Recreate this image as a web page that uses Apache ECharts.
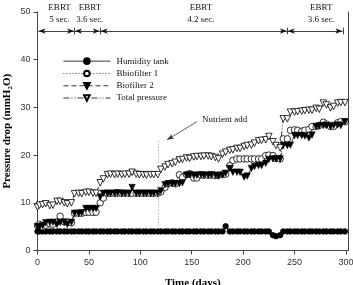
<!DOCTYPE html>
<html><head><meta charset="utf-8">
<script src="https://cdn.jsdelivr.net/npm/echarts@6/dist/echarts.min.js"></script>
<style>html,body{margin:0;padding:0;background:#fff}#c{width:353px;height:285px}</style>
</head><body><div id="c"></div>
<script>
const days = [0,2,5,8,12,15,19,22,26,29,33,36,40,43,47,50,54,57,61,64,68,71,75,78,82,85,89,92,96,99,103,106,110,113,117,120,124,127,131,134,138,141,145,148,152,155,159,162,166,169,173,176,180,183,187,190,194,197,201,204,208,211,215,218,222,225,229,232,236,239,243,246,250,253,257,260,264,267,271,274,278,281,285,288,292,295,299];
const humidityTank = [4,4,4,4,4,4,4,4,4,4, 4,4,4,4,4,4,4,4,4,4, 4,4,4,4,4,4,4,4,4,4, 4,4,4,4,4,4,4,4,4,4, 4,4,4,4,4,4,4,4,4,4, 4,4,4,5.1,4,4,4,4,4,4, 4,4,4,4,4,4,3.2,3.0,3.2,4, 4,4,4,4,4,4,4,4,4,4, 4,4,4,4,4,4,4];
const biofilter1 = [5.2,5.5,5.0,5.3,5.6,5.5,6.0,7.2,6.0,6.0, 5.8,7.8,7.8,7.8,8.0,8.0,8.0,8.0,10.0,11.0, 12.0,12.0,12.0,12.0,12.0,12.0,12.0,12.0,12.0,12.0, 12.0,12.0,12.0,12.0,12.0,12.3,13.2,14.0,14.2,14.0, 15.9,15.3,15.9,16.1,15.2,15.2,15.8,15.8,15.8,15.8, 15.7,15.8,16.0,16.0,17.8,18.9,19.2,19.2,19.2,19.2, 19.2,19.2,19.2,19.2,19.9,20.0,19.9,19.3,19.2,23.4, 23.4,25.2,25.3,25.2,25.0,25.2,25.4,26.0,26.0,26.2, 26.9,26.5,26.0,26.0,26.8,27.0,27.0];
const biofilter2 = [5.0,5.0,5.2,5.8,5.9,5.9,5.5,5.9,5.9,5.5, 5.9,7.8,7.8,7.9,8.8,8.8,8.8,8.8,11.2,12.0, 12.0,12.0,12.0,12.1,12.0,12.0,12.0,13.2,12.0,12.0, 12.0,12.0,12.0,12.0,12.0,12.5,13.8,14.0,14.0,14.0, 14.0,14.2,15.8,15.9,15.8,15.8,15.9,15.8,15.8,15.9, 15.8,15.6,15.8,16.2,17.2,16.4,16.4,16.4,15.4,15.6, 17.2,17.6,17.8,17.8,18.3,19.1,19.2,19.2,19.2,22.0, 22.0,22.1,24.1,24.1,24.1,24.0,23.6,24.2,26.0,26.1, 26.2,26.2,26.0,26.2,26.3,26.2,27.0];
const totalPressure = [9.1,9.5,9.6,9.8,9.4,9.5,10.3,10.3,10.0,9.8, 10.0,11.9,12.0,11.9,12.2,12.2,12.0,12.0,14.2,15.0, 15.9,16.0,15.9,16.0,15.9,16.0,16.0,16.4,16.0,15.9, 15.9,15.8,15.9,15.9,15.9,17.0,17.5,18.0,18.2,18.5, 19.0,19.1,19.4,19.3,19.6,19.7,19.7,19.8,19.8,19.7, 19.5,19.2,20.2,20.6,21.0,21.1,21.4,21.4,21.8,22.0, 22.1,22.5,23.0,23.1,23.2,23.9,22.8,22.0,21.5,27.6, 27.6,29.0,29.0,29.1,29.2,29.3,29.4,29.4,29.8,29.6, 30.9,30.5,29.9,30.2,30.9,31.0,31.0];
const seriesNames = ['Humidity tank','Bbiofilter 1','Biofilter 2','Total pressure'];
const xTicks = [0,50,100,150,200,250,300];
const ebrtBounds = [0,36,61,243,297];
const ebrtLabels = ['EBRT\n5 sec.','EBRT\n3.6 sec.','EBRT\n4.2 sec.','EBRT\n3.6 sec.'];
const ebrtLabelX = [21.5,51,159,276];
const ebrtY = 46;
const ebrtLabelY = 49.7;
const nutrientDay = 117;
const nutrientLine = [23, 4];
const nutrientArrow = [[155, 27.0],[126, 23.2]];
const nutrientText = 'Nutrient add';
const nutrientTextPos = [160, 27.4];

const serif = '"Liberation Serif","DejaVu Serif",serif';
const sans = '"Liberation Sans",Arial,sans-serif';
const pair = (arr) => days.map((d,i)=>[d, arr[i]]);

const ebrtLines = [];
for (let i=0;i<ebrtBounds.length-1;i++){
  const a = ebrtBounds[i] + (i===0?1:0.4), b = ebrtBounds[i+1]-0.4;
  ebrtLines.push([{coord:[a,ebrtY],symbol:'arrow',symbolSize:[4,7]},{coord:[b,ebrtY],symbol:'arrow',symbolSize:[4,7]}]);
}
for (let i=1;i<ebrtBounds.length;i++){
  ebrtLines.push([{coord:[ebrtBounds[i],ebrtY-0.7],symbol:'none'},{coord:[ebrtBounds[i],ebrtY+0.7],symbol:'none'}]);
}

const chart = echarts.init(document.getElementById('c'), null, {renderer:'canvas'});
chart.setOption({
  animation:false,
  grid:{left:37.5,right:5,top:12,bottom:34.5,containLabel:false,outerBoundsMode:'none'},
  legend:{
    data:seriesNames, orient:'vertical', left:58, top:50,
    itemWidth:47, itemHeight:7, itemGap:0,
    lineStyle:{width:0.8},
    textStyle:{fontFamily:serif,fontSize:9,color:'#111',lineHeight:12.3,padding:[0,0,0,1]},
    selectedMode:false
  },
  xAxis:{
    type:'value', min:0, max:302,
    name:'Time (days)', nameLocation:'middle', nameGap:27, nameMoveOverlap:false,
    nameTextStyle:{fontFamily:serif,fontSize:11,fontWeight:'bold',color:'#000'},
    axisLine:{show:true,lineStyle:{color:'#444',width:1}},
    axisTick:{show:true,length:4,inside:false,customValues:xTicks,lineStyle:{color:'#444'}},
    axisLabel:{customValues:xTicks,fontFamily:sans,fontSize:9,color:'#333',margin:8},
    splitLine:{show:false}
  },
  yAxis:[{
    type:'value', min:0, max:50, interval:10, position:'left',
    name:'Pressure drop (mmH{sub|2}O)', nameLocation:'middle', nameGap:24, nameRotate:90, nameMoveOverlap:false,
    nameTextStyle:{fontFamily:serif,fontSize:11,fontWeight:'bold',color:'#000',
      rich:{sub:{fontFamily:serif,fontSize:7,fontWeight:'bold',verticalAlign:'bottom',padding:[5,0,0,0]}}},
    axisLine:{show:true,lineStyle:{color:'#444',width:1}},
    axisTick:{show:true,length:4,inside:false,lineStyle:{color:'#444'}},
    axisLabel:{fontFamily:sans,fontSize:9,color:'#333',margin:7},
    splitLine:{show:false}
  },{
    type:'value', min:0, max:50, position:'right',
    axisLine:{show:true,lineStyle:{color:'#444',width:1}},
    axisTick:{show:false}, axisLabel:{show:false}, splitLine:{show:false}
  }],
  series:[
    {name:seriesNames[0], type:'line', data:pair(humidityTank), clip:false,
     symbol:'circle', symbolSize:5.5, itemStyle:{color:'#000',borderColor:'#000',borderWidth:0.8},
     lineStyle:{color:'#000',width:0.8,type:'solid'},
     markLine:{silent:true, animation:false, label:{show:false}, lineStyle:{color:'#111',width:0.8,type:'solid'}, data:ebrtLines}},
    {name:seriesNames[1], type:'line', data:pair(biofilter1), clip:false,
     symbol:'circle', symbolSize:6.5, itemStyle:{color:'#fff',borderColor:'#000',borderWidth:0.8},
     lineStyle:{color:'#000',width:0.8,type:[1,2]},
     markLine:{silent:true, animation:false, label:{show:false}, data:[
       [{coord:[nutrientDay,nutrientLine[0]],symbol:'none',lineStyle:{color:'#888',width:0.8,type:[1,2]}},{coord:[nutrientDay,nutrientLine[1]],symbol:'none'}],
       [{coord:nutrientArrow[0],symbol:'none',lineStyle:{color:'#333',width:0.8,type:'solid'}},{coord:nutrientArrow[1],symbol:'arrow',symbolSize:[4,7]}]
     ]}},
    {name:seriesNames[2], type:'line', data:pair(biofilter2), clip:false,
     symbol:'triangle', symbolRotate:180, symbolSize:6.5, itemStyle:{color:'#000',borderColor:'#000',borderWidth:0.5},
     lineStyle:{color:'#000',width:0.8,type:[5,3]}},
    {name:seriesNames[3], type:'line', data:pair(totalPressure), clip:false,
     symbol:'triangle', symbolRotate:180, symbolSize:6.5, itemStyle:{color:'#fff',borderColor:'#000',borderWidth:0.8},
     lineStyle:{color:'#000',width:0.8,type:[6,2,1,2,1,2]},
     markPoint:{silent:true, animation:false, symbol:'rect', symbolSize:0,
       data: ebrtLabels.map((t,i)=>({coord:[ebrtLabelX[i],ebrtLabelY], value:t,
         label:{show:true,formatter:t,position:'inside',fontFamily:serif,fontSize:9,lineHeight:12,color:'#111',align:'center',verticalAlign:'middle'}}))
         .concat([{coord:nutrientTextPos, value:nutrientText,
         label:{show:true,formatter:nutrientText,position:'inside',fontFamily:serif,fontSize:9,color:'#111',align:'left',verticalAlign:'middle'}}])
     }}
  ]
});
</script></body></html>
